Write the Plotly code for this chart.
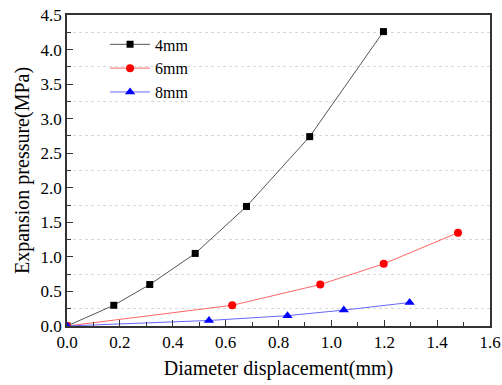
import plotly.graph_objects as go

x_4mm = [0, 0.177, 0.313, 0.485, 0.679, 0.918, 1.197]
y_4mm = [0, 0.30, 0.60, 1.05, 1.73, 2.74, 4.26]
x_6mm = [0, 0.625, 0.958, 1.198, 1.479]
y_6mm = [0, 0.30, 0.60, 0.90, 1.35]
x_8mm = [0, 0.537, 0.834, 1.047, 1.296]
y_8mm = [0, 0.08, 0.15, 0.23, 0.34]

font_family = "Times New Roman, Liberation Serif, serif"

fig = go.Figure()
fig.add_trace(go.Scatter(x=x_4mm, y=y_4mm, mode="lines+markers", name="4mm",
                         line=dict(color="#555555", width=1),
                         marker=dict(symbol="square", size=7, color="black")))
fig.add_trace(go.Scatter(x=x_6mm, y=y_6mm, mode="lines+markers", name="6mm",
                         line=dict(color="#ff6666", width=1),
                         marker=dict(symbol="circle", size=8, color="red")))
fig.add_trace(go.Scatter(x=x_8mm, y=y_8mm, mode="lines+markers", name="8mm",
                         line=dict(color="#6666ff", width=1),
                         marker=dict(symbol="triangle-up", size=9, color="blue")))

fig.update_layout(
    template="none",
    width=502, height=385,
    margin=dict(l=67, r=12, t=15, b=59),
    plot_bgcolor="white", paper_bgcolor="white",
    font=dict(family=font_family, size=17, color="black"),
    showlegend=True,
    legend=dict(x=0.09, y=0.96, xanchor="left", yanchor="top",
                font=dict(family=font_family, size=16, color="black"),
                bgcolor="rgba(0,0,0,0)", tracegroupgap=0, itemwidth=40),
)

axis_common = dict(showline=True, linecolor="#333333", linewidth=1.5, mirror=True,
                   ticks="inside", ticklen=6, tickwidth=1.2, tickcolor="#333333",
                   zeroline=False, showgrid=False, tickformat=".1f",
                   ticklabeloverflow="allow", automargin=False,
                   tickfont=dict(family=font_family, size=17, color="black"))

fig.update_xaxes(range=[0, 1.6], dtick=0.2,
                 minor=dict(dtick=0.1, ticks="inside", ticklen=4, tickcolor="#333333", showgrid=False),
                 title=dict(text="Diameter displacement(mm)", font=dict(family=font_family, size=20), standoff=10),
                 **axis_common)
fig.update_yaxes(range=[0, 4.5], dtick=0.5,
                 minor=dict(dtick=0.25, ticks="inside", ticklen=4, tickcolor="#333333",
                            showgrid=True, gridcolor="#d8d8d8", griddash="dot", gridwidth=1),
                 title=dict(text="Expansion pressure(MPa)", font=dict(family=font_family, size=20), standoff=6),
                 **axis_common)

fig.write_html("out.html")
